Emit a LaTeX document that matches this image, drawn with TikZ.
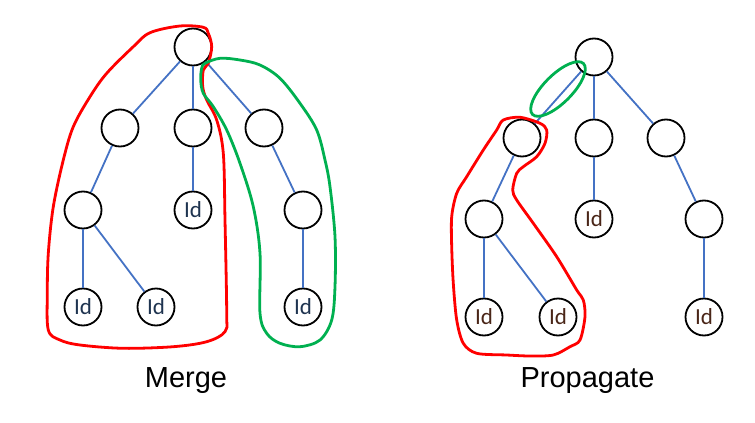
\documentclass[tikz,border=0pt]{standalone}
\usepackage{fontspec}
\setmainfont{Liberation Sans}
\newfontfamily\idfont{Carlito}
\definecolor{edgeblue}{HTML}{4472C4}
\definecolor{loopred}{HTML}{FF0000}
\definecolor{loopgreen}{HTML}{00B050}
\definecolor{idleft}{HTML}{1F3450}
\definecolor{idright}{HTML}{4A2618}
\begin{document}
\begin{tikzpicture}[x=1pt,y=-1pt,
  tnode/.style={circle,draw=black,line width=1.8pt,minimum size=37pt,inner sep=0pt,fill=white,font=\idfont\fontsize{23}{25}\selectfont},
  edge/.style={draw=edgeblue,line width=1.8pt},
  redloop/.style={draw=loopred,line width=2.8pt,line join=round},
  greenloop/.style={draw=loopgreen,line width=2.8pt,line join=round},
  lbl/.style={anchor=base,font=\fontsize{29}{32}\selectfont}]
\useasboundingbox (0,0) rectangle (755,423);
% ---------- Merge tree ----------
\node[tnode] (mr) at (193,47) {};
\node[tnode] (ma) at (120,128) {};
\node[tnode] (mb) at (193,128) {};
\node[tnode] (mc) at (264,128) {};
\node[tnode] (md) at (83,210) {};
\node[tnode,text=idleft] (me) at (193,210) {Id};
\node[tnode] (mf) at (303,210) {};
\node[tnode,text=idleft] (mg) at (83,307) {Id};
\node[tnode,text=idleft] (mh) at (156,307) {Id};
\node[tnode,text=idleft] (mi) at (303,307) {Id};
\draw[edge] (mr) -- (ma);
\draw[edge] (mr) -- (mb);
\draw[edge] (mr) -- (mc);
\draw[edge] (ma) -- (md);
\draw[edge] (mb) -- (me);
\draw[edge] (mc) -- (mf);
\draw[edge] (md) -- (mg);
\draw[edge] (md) -- (mh);
\draw[edge] (mf) -- (mi);
% ---------- Propagate tree ----------
\node[tnode] (pr) at (594,57) {};
\node[tnode] (pa) at (522,138) {};
\node[tnode] (pb) at (594,138) {};
\node[tnode] (pc) at (666,138) {};
\node[tnode] (pd) at (484,219) {};
\node[tnode,text=idright] (pe) at (594,219) {Id};
\node[tnode] (pf) at (704,219) {};
\node[tnode,text=idright] (pg) at (484,317) {Id};
\node[tnode,text=idright] (ph) at (558,317) {Id};
\node[tnode,text=idright] (pi) at (704,317) {Id};
\draw[edge] (pr) -- (pa);
\draw[edge] (pr) -- (pb);
\draw[edge] (pr) -- (pc);
\draw[edge] (pa) -- (pd);
\draw[edge] (pb) -- (pe);
\draw[edge] (pc) -- (pf);
\draw[edge] (pd) -- (pg);
\draw[edge] (pd) -- (ph);
\draw[edge] (pf) -- (pi);
% ---------- freehand loops ----------
\draw[redloop] plot[smooth cycle,tension=0.55] coordinates {
 (208.3,63.3) (211.7,46.7) (208.3,33.3) (203.3,27.3) (180,26) (150,32.7)
 (133.3,46.7) (106.7,73.3) (90,96.7) (73.3,126.7) (63.3,160) (53.3,206.7)
 (48.3,253.3) (47.3,293.3) (48.3,330) (60,340) (80,345) (123.3,348.3)
 (173.3,346.7) (206.7,341.7) (225,331.7) (226.7,313.3) (225,220)
 (223.3,153.3) (216.7,120) (206.7,100) (202.7,86.7) (203.3,70)};
\draw[greenloop] plot[smooth cycle,tension=0.55] coordinates {
 (205,63.3) (220,58.3) (240,60) (260,65) (280,78.3) (300,103.3)
 (316.7,130) (325,160) (330,186.7) (335,236.7) (335,286.7) (331.7,320)
 (320,340) (300,346.7) (280,343.3) (266.7,333.3) (260,313.3) (260,253.3)
 (253.3,206.7) (240,163.3) (226.7,130) (213.3,106.7) (203.3,93.3)
 (200.7,80) (201.7,68.3)};
\draw[redloop] plot[smooth cycle,tension=0.5] coordinates {
 (503.3,120) (520,117.3) (540,123.3) (546.7,130) (545,143.3) (536.7,156.7)
 (523.3,166.7) (516.7,173.3) (512.7,190) (516.7,200) (533.3,223.3)
 (556.7,256.7) (576.7,290) (583.3,300) (585,316.7) (580,340) (570,346.7)
 (553.3,355) (530,356) (506.7,355) (476.7,353.3) (463.3,343.3)
 (456.7,320) (453.3,283.3) (451.7,246.7) (451.7,216.7) (456.7,193.3)
 (466.7,176.7) (483.3,150) (496.7,130)};
\draw[greenloop] (558,89) ellipse[x radius=36,y radius=14,rotate=45];
% ---------- labels ----------
\node[lbl] (mergelbl) at (186,387) {Merge};
\node[lbl] (proplbl) at (587.5,387) {Propagate};
\end{tikzpicture}
\end{document}
